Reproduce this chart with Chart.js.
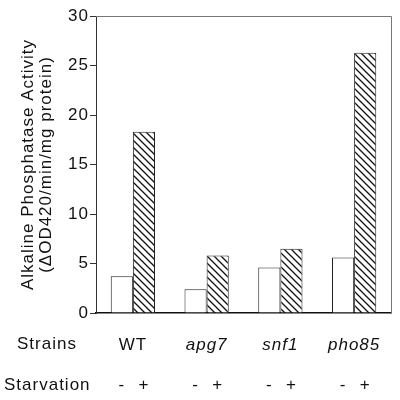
<!DOCTYPE html>
<html>
<head>
<meta charset="utf-8">
<script src="https://cdn.jsdelivr.net/npm/chart.js@4/dist/chart.umd.min.js"></script>
<style>
  html, body { margin: 0; padding: 0; background: #fff; }
  canvas { display: block; }
</style>
</head>
<body>
<canvas id="activity" width="400" height="400"></canvas>
<script>
const strains = ['WT', 'apg7', 'snf1', 'pho85']
const fedActivity = [3.7, 2.4, 4.6, 5.6]
const starvedActivity = [18.3, 5.8, 6.5, 26.3]
const starvationSigns = ['-', '+']
const yTitle = ['Alkaline Phosphatase Activity', '(\u0394OD420/min/mg protein)']

const fontFamily = '"Liberation Sans", Arial, Helvetica, sans-serif'
const ink = '#111'

function makeHatch(ctx) {
  const size = 7
  const c = document.createElement('canvas')
  c.width = size
  c.height = size
  const g = c.getContext('2d')
  g.fillStyle = '#fff'
  g.fillRect(0, 0, size, size)
  g.strokeStyle = '#111'
  g.lineWidth = 1.3
  g.beginPath()
  g.moveTo(0, 0); g.lineTo(size, size)
  g.moveTo(-2, size - 2); g.lineTo(2, size + 2)
  g.moveTo(size - 2, -2); g.lineTo(size + 2, 2)
  g.stroke()
  return ctx.createPattern(c, 'repeat')
}

// the figure's type is a bit wider than Liberation Sans
const spacing = {
  id: 'spacing',
  beforeLayout(chart) { chart.ctx.letterSpacing = '1px' },
  beforeDraw(chart) { chart.ctx.letterSpacing = '1px' }
}

// top/right frame, plus the "Strains" / "Starvation" rows
const extraLabels = {
  id: 'extraLabels',
  afterDraw(chart) {
    const { ctx, chartArea: area } = chart
    ctx.save()
    ctx.strokeStyle = '#777'
    ctx.lineWidth = 1
    ctx.beginPath()
    ctx.moveTo(area.left, area.top + 0.5)
    ctx.lineTo(area.right + 0.5, area.top + 0.5)
    ctx.lineTo(area.right + 0.5, area.bottom)
    ctx.stroke()

    ctx.fillStyle = ink
    ctx.font = '17px ' + fontFamily
    ctx.textBaseline = 'middle'
    ctx.textAlign = 'left'
    ctx.fillText('Strains', 17, 344)
    ctx.fillText('Starvation', 4, 385)

    ctx.textAlign = 'center'
    chart.data.datasets.forEach((ds, i) => {
      const meta = chart.getDatasetMeta(i)
      meta.data.forEach(bar => {
        ctx.fillText(starvationSigns[i], bar.x, 385)
      })
    })
    ctx.restore()
  }
}

const canvas = document.getElementById('activity')
const ctx = canvas.getContext('2d')

new Chart(ctx, {
  type: 'bar',
  data: {
    labels: strains,
    datasets: [
      {
        label: 'Starvation -',
        data: fedActivity,
        backgroundColor: '#fff',
        borderColor: '#222',
        borderWidth: 1
      },
      {
        label: 'Starvation +',
        data: starvedActivity,
        backgroundColor: makeHatch(ctx),
        borderColor: '#222',
        borderWidth: 1
      }
    ]
  },
  options: {
    responsive: false,
    animation: false,
    layout: { padding: { top: 16, right: 9, left: 0, bottom: 0 } },
    plugins: {
      legend: { display: false },
      tooltip: { enabled: false }
    },
    datasets: {
      bar: { categoryPercentage: 0.6, barPercentage: 1 }
    },
    scales: {
      x: {
        grid: { display: false },
        border: { display: true, color: ink, width: 1.5 },
        ticks: {
          padding: 14,
          color: ink,
          font: (c) => ({
            family: fontFamily,
            size: 17,
            style: c.index === 0 ? 'normal' : 'italic'
          })
        },
        afterFit: (scale) => { scale.height = 87 }
      },
      y: {
        min: 0,
        max: 30,
        ticks: {
          stepSize: 5,
          padding: 1,
          color: ink,
          font: { family: fontFamily, size: 17 }
        },
        grid: {
          drawOnChartArea: false,
          drawTicks: true,
          tickLength: 6,
          color: '#333'
        },
        border: { display: true, color: '#333', width: 1 },
        title: {
          display: true,
          text: yTitle,
          color: ink,
          padding: { top: 19, bottom: 0 },
          font: { family: fontFamily, size: 17, lineHeight: 1.08 }
        },
        afterFit: (scale) => { scale.width = 96 }
      }
    }
  },
  plugins: [spacing, extraLabels]
})
</script>
</body>
</html>
